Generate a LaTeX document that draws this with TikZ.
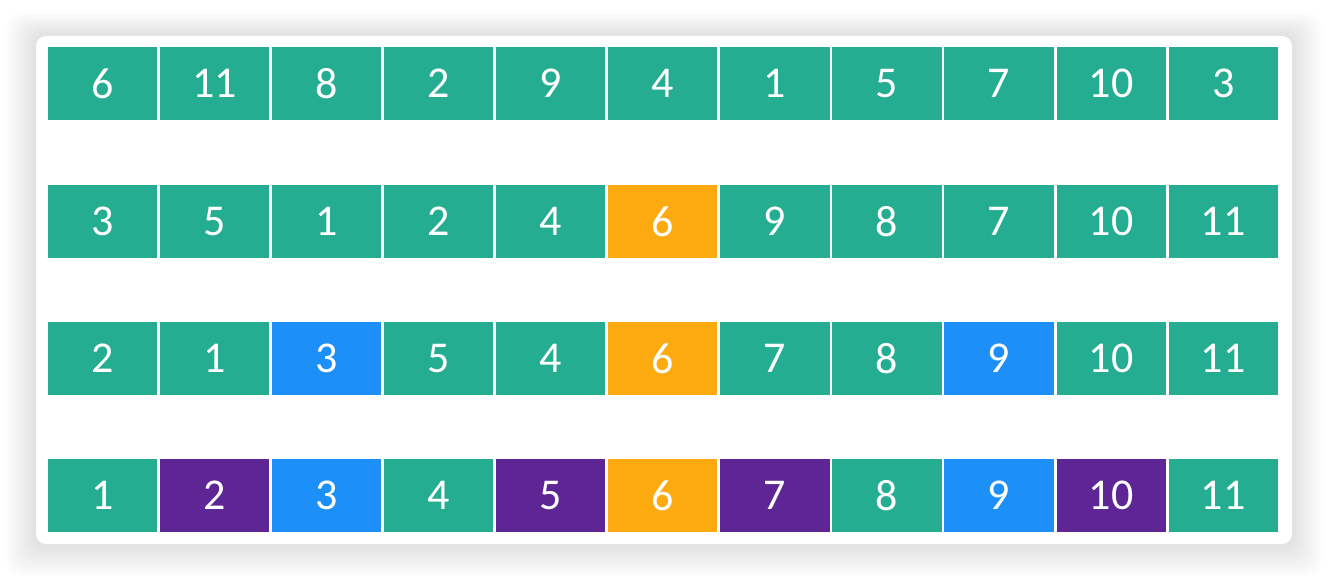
\documentclass[tikz,border=0pt]{standalone}
\usepackage{fontspec}
\setmainfont{Carlito}
\definecolor{teal}{HTML}{25AD92}
\definecolor{orng}{HTML}{FDAA10}
\definecolor{blu}{HTML}{1C8FF8}
\definecolor{purp}{HTML}{5E2594}
\tikzset{
  cell/.style={fill=#1, draw=white, line width=1.2pt, minimum width=110.5pt, minimum height=74pt, inner sep=0pt, text=white, font=\fontsize{44}{44}\selectfont, anchor=north west},
  cell/.default=teal
}
\begin{document}
\begin{tikzpicture}[x=1pt,y=-1pt]
\useasboundingbox (0,0) rectangle (1328,580);
\fill[white] (0,0) rectangle (1328,580);
% shadow
\foreach \i in {1,...,30}{
  \fill[black, opacity=0.0042, rounded corners=14pt] (36-\i,36-\i*0.8) rectangle (1292+\i,544+\i*1.1);
}
\fill[white, rounded corners=10pt] (36,36) rectangle (1292,544);
% rows
\def\pitch{112.1}
\foreach \r/\y/\vals in {
 0/46/{6/teal,11/teal,8/teal,2/teal,9/teal,4/teal,1/teal,5/teal,7/teal,10/teal,3/teal},
 1/184/{3/teal,5/teal,1/teal,2/teal,4/teal,6/orng,9/teal,8/teal,7/teal,10/teal,11/teal},
 2/321/{2/teal,1/teal,3/blu,5/teal,4/teal,6/orng,7/teal,8/teal,9/blu,10/teal,11/teal},
 3/458/{1/teal,2/purp,3/blu,4/teal,5/purp,6/orng,7/purp,8/teal,9/blu,10/purp,11/teal}}{
  \foreach \v/\c [count=\k from 0] in \vals {
    \node[cell=\c] (n\r-\k) at (46.4+\k*\pitch,\y) {\v};
  }
}
\end{tikzpicture}
\end{document}
